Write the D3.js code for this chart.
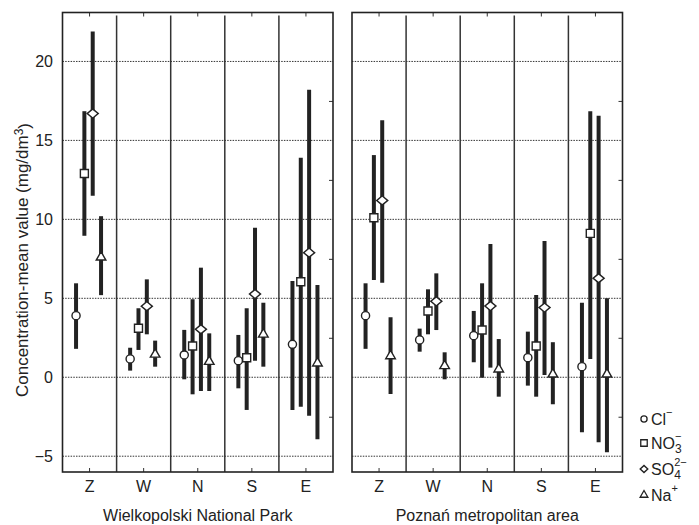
<!DOCTYPE html>
<html>
<head>
<meta charset="utf-8">
<script src="https://cdn.jsdelivr.net/npm/d3@7"></script>
<style>
  body { margin: 0; background: #fff; }
  svg text { font-family: "Liberation Sans", Arial, Helvetica, sans-serif; fill: #222; }
</style>
</head>
<body>
<svg id="chart" width="699" height="525"></svg>
<script>
// Data: groups (wind sectors) and ions
const groups = ["Z", "W", "N", "S", "E"];
const ions = ["Cl", "NO3", "SO4", "Na"];
const yTicks = [-5, 0, 5, 10, 15, 20];
const yMinorTicks = [-2.5, 2.5, 7.5, 12.5, 17.5];

// Wielkopolski National Park: mean, lower, upper per group [Cl, NO3, SO4, Na]
const wnpMean = [[3.9, 12.9, 16.7, 7.6], [1.16, 3.1, 4.5, 1.45], [1.41, 1.98, 3.04, 0.99], [1.05, 1.24, 5.27, 2.72], [2.09, 6.05, 7.89, 0.89]];
const wnpLow  = [[1.8, 8.96, 11.5, 5.2], [0.42, 1.73, 2.72, 0.67], [-0.13, -1.08, -0.87, -0.87], [-0.7, -2.07, 1.05, 0.67], [-2.07, -1.86, -2.43, -3.92]];
const wnpHigh = [[5.95, 16.85, 21.9, 10.2], [1.87, 4.37, 6.2, 2.32], [3.0, 4.94, 6.94, 2.78], [2.68, 4.37, 9.47, 4.72], [6.1, 13.9, 18.2, 5.84]];

// Poznań metropolitan area
const pmaMean = [[3.9, 10.1, 11.2, 1.35], [2.36, 4.2, 4.81, 0.72], [2.63, 2.99, 4.51, 0.51], [1.24, 1.98, 4.41, 0.19], [0.67, 9.11, 6.27, 0.19]];
const pmaLow  = [[1.8, 6.16, 5.99, -1.06], [1.62, 2.72, 2.99, -0.13], [0.95, -0.03, 0.61, -1.23], [-0.53, -1.23, 0.15, -1.71], [-3.48, 1.16, -4.11, -4.75]];
const pmaHigh = [[5.95, 14.07, 16.28, 3.8], [3.08, 5.57, 6.58, 1.58], [4.2, 5.95, 8.44, 2.42], [2.89, 5.21, 8.63, 2.22], [4.72, 16.85, 16.56, 5.0]];

const panels = [
    { title: "Wielkopolski National Park", left: 62.5, right: 333, mean: wnpMean, low: wnpLow, high: wnpHigh },
    { title: "Poznań metropolitan area", left: 352, right: 622.5, mean: pmaMean, low: pmaLow, high: pmaHigh }
];

const plotTop = 12.5, plotBottom = 472;
const svg = d3.select("#chart");
const ink = "#222";

const y = d3.scaleLinear().domain([-6, 23.1]).range([plotBottom, plotTop]);
const offset = d3.scalePoint().domain(ions).range([-13.5, 11.5]);

// marker shapes
const shapes = {
    Cl: { type: d3.symbolCircle, size: 52, tf: "" },
    NO3: { type: d3.symbolSquare, size: 64, tf: "" },
    SO4: { type: d3.symbolSquare, size: 46, tf: " scale(1.15,0.95) rotate(45)" },
    Na: { type: d3.symbolTriangle, size: 40, tf: "" }
};

// Y tick labels
svg.append("g").selectAll("text")
    .data(yTicks)
    .join("text")
    .attr("x", 53)
    .attr("y", d => y(d))
    .attr("dy", "0.35em")
    .attr("text-anchor", "end")
    .style("font-size", "16px")
    .text(d => d < 0 ? "\u2212" + Math.abs(d) : d);

// Y axis title
svg.append("text")
    .attr("transform", `translate(28, 260) rotate(-90)`)
    .attr("text-anchor", "middle")
    .style("font-size", "17px")
    .call(t => {
        t.append("tspan").text("Concentration-mean value (mg/dm");
        t.append("tspan").attr("dy", "-0.45em").style("font-size", "12px").text("3");
        t.append("tspan").attr("dy", "0.45em").text(")");
    });

panels.forEach(p => {
    const x = d3.scaleBand().domain(groups).range([p.left, p.right]);
    const g = svg.append("g");

    // gridlines
    g.selectAll(".grid")
        .data(yTicks)
        .join("line")
        .attr("x1", p.left).attr("x2", p.right)
        .attr("y1", d => y(d)).attr("y2", d => y(d))
        .attr("stroke", "#333")
        .attr("stroke-width", 1)
        .attr("stroke-dasharray", "1.5,1.2");

    // group separators
    g.selectAll(".sep")
        .data(groups.slice(1))
        .join("line")
        .attr("x1", d => x(d)).attr("x2", d => x(d))
        .attr("y1", plotTop + 3).attr("y2", plotBottom)
        .attr("stroke", "#333")
        .attr("stroke-width", 1.5);

    // bottom axis with labels
    const xb = g.append("g")
        .attr("transform", `translate(0,${plotBottom})`)
        .call(d3.axisBottom(x).tickSize(-4).tickPadding(9));
    xb.select(".domain").remove();
    xb.selectAll("text").style("font-size", "16px").attr("fill", ink);
    xb.selectAll("line").attr("stroke", "#333");

    // top ticks
    const xt = g.append("g")
        .attr("transform", `translate(0,${plotTop})`)
        .call(d3.axisTop(x).tickSize(-4).tickFormat(""));
    xt.select(".domain").remove();
    xt.selectAll("line").attr("stroke", "#333");

    // right minor ticks
    const yr = g.append("g")
        .attr("transform", `translate(${p.right},0)`)
        .call(d3.axisRight(y).tickValues(yMinorTicks).tickSize(-4).tickFormat(""));
    yr.select(".domain").remove();
    yr.selectAll("line").attr("stroke", "#333");

    // panel border
    g.append("rect")
        .attr("x", p.left).attr("y", plotTop)
        .attr("width", p.right - p.left).attr("height", plotBottom - plotTop)
        .attr("fill", "none")
        .attr("stroke", ink)
        .attr("stroke-width", 1.6);

    // panel title
    g.append("text")
        .attr("x", (p.left + p.right) / 2)
        .attr("y", 521)
        .attr("text-anchor", "middle")
        .style("font-size", "16px")
        .text(p.title);

    // error bars + markers
    const rows = [];
    groups.forEach((grp, gi) => {
        ions.forEach((ion, ii) => {
            rows.push({ grp, ion, mean: p.mean[gi][ii], low: p.low[gi][ii], high: p.high[gi][ii] });
        });
    });
    const cx = d => x(d.grp) + x.bandwidth() / 2 + offset(d.ion);

    g.selectAll(".bar")
        .data(rows)
        .join("line")
        .attr("x1", cx).attr("x2", cx)
        .attr("y1", d => y(d.low)).attr("y2", d => y(d.high))
        .attr("stroke", ink)
        .attr("stroke-width", 4);

    g.selectAll(".mark")
        .data(rows)
        .join("path")
        .attr("d", d => d3.symbol(shapes[d.ion].type, shapes[d.ion].size)())
        .attr("transform", d => `translate(${cx(d)},${y(d.mean)})${shapes[d.ion].tf}`)
        .attr("fill", "#fff")
        .attr("stroke", ink)
        .attr("stroke-width", 1.4);
});

// Legend
const legendY = [419, 443, 469, 495];
const legendShapes = {
    Cl: { type: d3.symbolCircle, size: 30, tf: "" },
    NO3: { type: d3.symbolSquare, size: 42, tf: "" },
    SO4: { type: d3.symbolSquare, size: 24, tf: " scale(1.1,1) rotate(45)" },
    Na: { type: d3.symbolTriangle, size: 26, tf: "" }
};
const legendText = {
    Cl: ["Cl", "", "\u2212"],
    NO3: ["NO", "3", "\u2212"],
    SO4: ["SO", "4", "2\u2212"],
    Na: ["Na", "", "+"]
};
const legend = svg.append("g");
ions.forEach((ion, i) => {
    const ly = legendY[i];
    legend.append("path")
        .attr("d", d3.symbol(legendShapes[ion].type, legendShapes[ion].size)())
        .attr("transform", `translate(644,${ly})${legendShapes[ion].tf}`)
        .attr("fill", "#fff")
        .attr("stroke", ink)
        .attr("stroke-width", 1.3);
    const [base, sub, sup] = legendText[ion];
    const t = legend.append("text")
        .attr("x", 651).attr("y", ly + 6)
        .style("font-size", "16px")
        .text(base);
    const w = t.node().getComputedTextLength();
    if (sub) {
        legend.append("text")
            .attr("x", 651 + w).attr("y", ly + 10)
            .style("font-size", "12px")
            .text(sub);
    }
    legend.append("text")
        .attr("x", 651 + w).attr("y", ly - 3)
        .style("font-size", "11px")
        .text(sup);
});
</script>
</body>
</html>
